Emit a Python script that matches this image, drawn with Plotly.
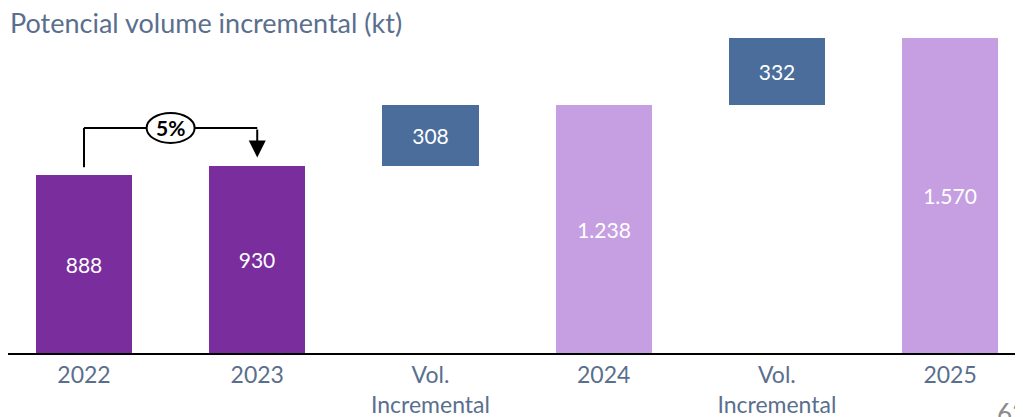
import plotly.graph_objects as go

# categories and values (kt)
categories = ["2022", "2023", "Vol.<br>Incremental", "2024", "Vol.<br>Incremental", "2025"]
totals = [888, 930, None, 1238, None, 1570]
increments = [None, None, 308, None, 332, None]
growth_label = "5%"

DARK_PURPLE = "#7A2D9C"
LIGHT_PURPLE = "#C59FE1"
BLUE = "#4A6D9C"
TEXT_GREY = "#5A6F8E"
FONT = "Lato, 'Open Sans', sans-serif"


def fmt(v):
    return f"{v:,}".replace(",", ".")


x_idx = list(range(len(categories)))

# base (floor) of each bar: totals sit on 0, increments float on previous total
bases = []
heights = []
colors = []
running = 0
for i, cat in enumerate(categories):
    if totals[i] is not None:
        bases.append(0)
        heights.append(totals[i])
        colors.append(DARK_PURPLE if i < 2 else LIGHT_PURPLE)
        running = totals[i]
    else:
        bases.append(running)
        heights.append(increments[i])
        colors.append(BLUE)
        running += increments[i]

fig = go.Figure()
fig.add_trace(
    go.Bar(
        x=x_idx,
        y=heights,
        base=bases,
        marker={"color": colors, "line": {"width": 0}},
        width=0.555,
        text=[fmt(h) for h in heights],
        textposition="inside",
        insidetextanchor="middle",
        textfont={"color": "white", "size": 21, "family": FONT},
        hoverinfo="skip",
    )
)

# bracket between 2022 and 2023
y_top = 1122
x0, x1 = 0, 1
fig.add_shape(type="line", x0=x0, x1=x0, y0=totals[0] + 38, y1=y_top,
              line={"color": "black", "width": 2})
fig.add_shape(type="line", x0=x0, x1=x1, y0=y_top, y1=y_top,
              line={"color": "black", "width": 2})
fig.add_annotation(x=x1, y=totals[1] + 45, ax=x1, ay=y_top, xref="x", yref="y",
                   axref="x", ayref="y", showarrow=True, arrowhead=2,
                   arrowsize=1.7, arrowwidth=2, arrowcolor="black", text="")
fig.add_shape(type="circle", xref="x", yref="y", xsizemode="pixel", ysizemode="pixel",
              xanchor=(x0 + x1) / 2, yanchor=y_top, x0=-24, x1=24, y0=-15, y1=15,
              fillcolor="white", line={"color": "black", "width": 2})
fig.add_annotation(x=(x0 + x1) / 2, y=y_top, text=f"<b>{growth_label}</b>", showarrow=False,
                   font={"size": 21, "color": "black", "family": FONT})

# page number, cut off at bottom right
fig.add_annotation(x=1.0, y=-0.13, xref="paper", yref="paper", text="63", showarrow=False,
                   xanchor="left", yanchor="top", xshift=-36,
                   font={"size": 26, "color": "#8C8C8C", "family": FONT})

fig.update_layout(
    width=1023,
    height=417,
    margin=dict(l=0, r=0, t=22, b=72),
    paper_bgcolor="white",
    plot_bgcolor="white",
    showlegend=False,
    title={"text": "Potencial volume incremental (kt)", "x": 0.002, "xanchor": "left",
           "y": 0.962, "yanchor": "middle",
           "font": {"size": 27, "color": TEXT_GREY, "family": FONT}},
    bargap=0,
)
fig.update_xaxes(
    tickmode="array",
    tickvals=x_idx,
    ticktext=categories,
    range=[-0.4388, 5.467],
    showgrid=False,
    showline=True,
    linecolor="black",
    linewidth=2,
    ticks="",
    tickfont={"size": 23, "color": TEXT_GREY, "family": FONT},
)
fig.update_yaxes(range=[0, 1610], visible=False, showgrid=False)

fig.write_html("out.html")
